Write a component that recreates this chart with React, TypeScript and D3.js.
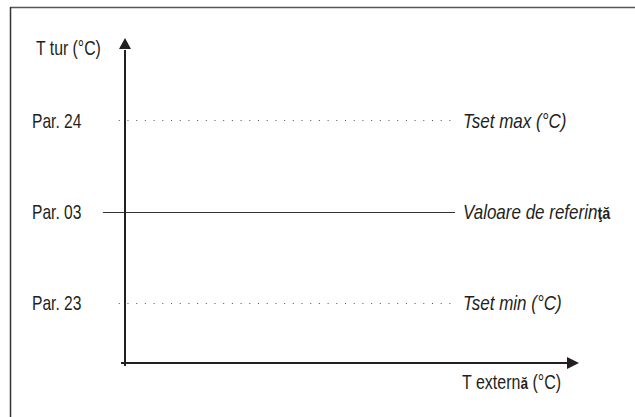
import React from "react";
import * as d3 from "d3";

const width = 635;
const height = 417;

// reference levels on the T tur axis (arbitrary units, 0 = x axis)
const levelLabels = ["Par. 24", "Par. 03", "Par. 23"];
const levelValues = [77, 48, 19];
const levelNames = ["Tset max (°C)", "Valoare de referin", "Tset min (°C)"];
const levelDashed = [true, false, true];

const yTitle = "T tur (°C)";
const xTitle = "T extern";

const font = "'Liberation Sans', Arial, sans-serif";
const ink = "#231f20";

const x = d3.scaleLinear().domain([0, 100]).range([125, 568]);
const y = d3.scaleLinear().domain([0, 100]).range([363, 48]);

function Label({ px, py, italic, squeeze = 0.78, children }: { px: number; py: number; italic?: boolean; squeeze?: number; children: React.ReactNode }) {
  return (
    <text
      transform={`translate(${px},${py}) scale(${squeeze},1)`}
      dy="0.36em"
      fontFamily={font}
      fontSize={20}
      fontStyle={italic ? "italic" : "normal"}
      fill={ink}
    >
      {children}
    </text>
  );
}

export default function App() {
  const lineStart = (dashed: boolean) => (dashed ? x(-1.4) : x(-5));
  const lineEnd = x(74.5);
  const upArrow = d3.path();
  upArrow.moveTo(x(0), 38);
  upArrow.lineTo(x(0) - 6, y(100) + 1);
  upArrow.lineTo(x(0) + 6, y(100) + 1);
  upArrow.closePath();
  const rightArrow = d3.path();
  rightArrow.moveTo(579, y(0));
  rightArrow.lineTo(x(100) - 1, y(0) - 6);
  rightArrow.lineTo(x(100) - 1, y(0) + 6);
  rightArrow.closePath();

  return (
    <svg width={width} height={height} style={{ position: "absolute", left: 0, top: 0 }}>
      <rect width={width} height={height} fill="#fff" />
      {/* frame */}
      <line x1={10} y1={7.5} x2={635} y2={7.5} stroke="#555" strokeWidth={1.5} />
      <line x1={10.5} y1={7} x2={10.5} y2={417} stroke="#333" strokeWidth={1.5} />

      {levelValues.map((v, i) => (
        <g key={i}>
          <line
            x1={lineStart(levelDashed[i])}
            x2={lineEnd}
            y1={Math.round(y(v)) + 0.5}
            y2={Math.round(y(v)) + 0.5}
            stroke={levelDashed[i] ? "#555" : "#333"}
            strokeWidth={1}
            strokeDasharray={levelDashed[i] ? "1,7.7" : undefined}
          />
          <Label px={32} py={y(v)}>{levelLabels[i]}</Label>
          <Label px={463} py={y(v)} italic squeeze={0.85}>
            {levelNames[i]}
            {i === 1 && <tspan fontStyle="normal" fontWeight="bold" fontSize={17}>ţă</tspan>}
          </Label>
        </g>
      ))}

      {/* axes */}
      <line x1={x(0)} x2={x(0)} y1={y(0) + 3} y2={y(100) + 2} stroke={ink} strokeWidth={2} />
      <path d={upArrow.toString()} fill={ink} />
      <line x1={x(0) - 4} x2={x(100)} y1={y(0)} y2={y(0)} stroke={ink} strokeWidth={2} />
      <path d={rightArrow.toString()} fill={ink} />

      <Label px={36} py={48} squeeze={0.79}>{yTitle}</Label>
      <Label px={462} py={382} squeeze={0.8}>
        {xTitle}
        <tspan fontWeight="bold" fontSize={17}>ă</tspan>
        {" (°C)"}
      </Label>
    </svg>
  );
}
